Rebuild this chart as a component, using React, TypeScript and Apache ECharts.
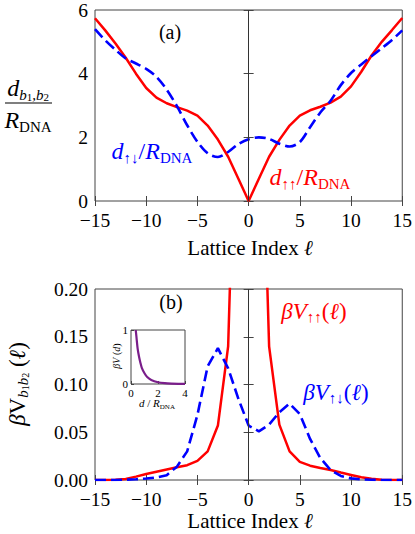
import React, { useEffect, useRef } from 'react';
import * as echarts from 'echarts';

const FONT = "'Liberation Serif', 'Times New Roman', 'DejaVu Serif', serif";

// Lattice index
const ell = [-15, -14, -13, -12, -11, -10, -9, -8, -7, -6, -5, -4, -3, -2, -1, 0, 1, 2, 3, 4, 5, 6, 7, 8, 9, 10, 11, 12, 13, 14, 15];

// Panel (a): distances / R_DNA
const dUpUp = [5.74, 5.36, 4.95, 4.5, 4.0, 3.55, 3.25, 3.07, 2.95, 2.84, 2.68, 2.37, 1.93, 1.39, 0.7, 0, 0.7, 1.39, 1.92, 2.37, 2.68, 2.85, 2.96, 3.09, 3.28, 3.6, 4.06, 4.57, 5.0, 5.37, 5.75];
const dUpDown = [5.4, 5.05, 4.75, 4.48, 4.32, 4.15, 3.9, 3.5, 2.98, 2.38, 1.86, 1.5, 1.38, 1.54, 1.79, 1.94, 2.0, 1.95, 1.8, 1.71, 1.85, 2.32, 2.78, 3.15, 3.64, 4.02, 4.29, 4.55, 4.8, 5.06, 5.36];

// Panel (b): beta V
const vUpUp = [0, 0, 0.0003, 0.001, 0.0035, 0.0063, 0.0087, 0.011, 0.0133, 0.0155, 0.02, 0.03, 0.057, 0.14, 0.5, null, 0.5, 0.14, 0.058, 0.03, 0.019, 0.015, 0.0125, 0.0105, 0.0078, 0.0053, 0.0028, 0.0012, 0.0003, 0, 0];
const vUpDown = [0, 0, 0, 0.0003, 0.0008, 0.0015, 0.0026, 0.005, 0.014, 0.03, 0.068, 0.119, 0.138, 0.117, 0.085, 0.057, 0.051, 0.058, 0.071, 0.08, 0.069, 0.043, 0.023, 0.0105, 0.0042, 0.0017, 0.0007, 0.0002, 0, 0, 0];

// Inset: beta V(d)
const insetD = [0.35, 0.4, 0.5, 0.6, 0.7, 0.8, 1.0, 1.2, 1.5, 2.0, 2.5, 3.0, 3.5, 4.0];
const insetV = [1.0, 0.88, 0.64, 0.5, 0.39, 0.3, 0.2, 0.13, 0.075, 0.033, 0.015, 0.007, 0.003, 0.0015];

const RED = '#ff0000';
const BLUE = '#0000ff';
const PURPLE = '#7a1e8a';
const FRAME = '#444444';

function pairs(xs: number[], ys: (number | null)[]) {
  return xs.map((x, i) => [x, ys[i]]);
}

function minusFmt(v: number) {
  return '{t|' + (v < 0 ? '\u2212' + Math.abs(v) : String(v)) + '}';
}

function rich(color: string, size: number) {
  const lh = size + 4;
  return {
    i: { fontFamily: FONT, fontStyle: 'italic', fontSize: size, lineHeight: lh, fill: color },
    n: { fontFamily: FONT, fontSize: size, lineHeight: lh, fill: color },
    s: { fontFamily: FONT, fontStyle: 'italic', fontSize: Math.round(size * 0.64), lineHeight: Math.round(size * 0.64), verticalAlign: 'bottom', fill: color },
    su: { fontFamily: FONT, fontSize: Math.round(size * 0.64), lineHeight: Math.round(size * 0.64), verticalAlign: 'bottom', fill: color },
    ss: { fontFamily: FONT, fontSize: Math.round(size * 0.45), lineHeight: Math.round(size * 0.3), verticalAlign: 'bottom', fill: color },
  };
}

function label(text: string, x: number, y: number, color: string, size: number, extra: any = {}) {
  return {
    type: 'text',
    x,
    y,
    ...extra,
    style: {
      text,
      rich: rich(color, size),
      fill: color,
      fontFamily: FONT,
      fontSize: size,
      align: 'center',
      verticalAlign: 'middle',
      textAlign: 'center',
      textVerticalAlign: 'middle',
    },
  };
}

const TICK_SIZE = 19.5;
const tickLabel = {
  color: '#000', fontFamily: FONT, fontSize: TICK_SIZE,
  rich: { t: { fontFamily: FONT, fontSize: TICK_SIZE, lineHeight: 18, color: '#000' } },
};
const tickStyle = { show: true, inside: true, length: 5, lineStyle: { color: FRAME, width: 1 } };

function mainX(grid: number, margin: number) {
  return [
    {
      type: 'value', gridIndex: grid, min: -15, max: 15, interval: 5, position: 'bottom',
      axisLine: { show: false }, axisTick: tickStyle, splitLine: { show: false },
      axisLabel: { ...tickLabel, margin, formatter: minusFmt },
    },
    {
      type: 'value', gridIndex: grid, min: -15, max: 15, interval: 5, position: 'top',
      axisLine: { show: false }, axisTick: tickStyle, splitLine: { show: false },
      axisLabel: { show: false },
    },
  ];
}

function mainY(grid: number, max: number, interval: number, fmt: (v: number) => string) {
  return [
    {
      type: 'value', gridIndex: grid, min: 0, max, interval, position: 'left',
      axisLine: { show: false }, axisTick: tickStyle, splitLine: { show: false },
      axisLabel: { ...tickLabel, margin: 7, formatter: (v: number) => '{t|' + fmt(v) + '}' },
    },
    {
      type: 'value', gridIndex: grid, min: 0, max, interval, position: 'right',
      axisLine: { show: false }, axisTick: tickStyle, splitLine: { show: false },
      axisLabel: { show: false },
    },
  ];
}

const zeroLine = {
  silent: true,
  symbol: ['none', 'none'],
  label: { show: false },
  lineStyle: { color: '#333', width: 1, type: 'solid' },
  data: [{ xAxis: 0 }],
  animation: false,
};

const insetLabel = {
  color: '#000', fontFamily: FONT, fontSize: 11, margin: 3,
  formatter: (v: number) => '{t|' + v + '}',
  rich: { t: { fontFamily: FONT, fontSize: 11, color: '#000' } },
};

const option: any = {
  animation: false,
  backgroundColor: '#fff',
  grid: [
    { left: 95, top: 8, width: 310, height: 193, show: true, borderColor: FRAME, borderWidth: 1, backgroundColor: 'transparent' },
    { left: 95, top: 289, width: 310, height: 191, show: true, borderColor: FRAME, borderWidth: 1, backgroundColor: 'transparent' },
    { left: 131, top: 330, width: 54, height: 54, show: true, borderColor: FRAME, borderWidth: 1, backgroundColor: 'transparent' },
  ],
  xAxis: [
    ...mainX(0, 10),
    ...mainX(1, 10),
    {
      type: 'value', gridIndex: 2, min: 0, max: 4, interval: 2,
      axisLine: { show: false }, splitLine: { show: false },
      axisTick: { show: true, inside: true, length: 3, lineStyle: { color: FRAME } },
      axisLabel: insetLabel,
    },
  ],
  yAxis: [
    ...mainY(0, 6, 2, (v: number) => String(v)),
    ...mainY(1, 0.2, 0.05, (v: number) => v.toFixed(2)),
    {
      type: 'value', gridIndex: 2, min: 0, max: 1, interval: 1,
      axisLine: { show: false }, splitLine: { show: false },
      axisTick: { show: true, inside: true, length: 3, lineStyle: { color: FRAME } },
      axisLabel: insetLabel,
    },
  ],
  series: [
    {
      type: 'line', xAxisIndex: 0, yAxisIndex: 0, data: pairs(ell, dUpUp), symbol: 'none', showSymbol: false,
      lineStyle: { color: RED, width: 2.5 }, markLine: zeroLine, z: 3,
    },
    {
      type: 'line', xAxisIndex: 0, yAxisIndex: 0, data: pairs(ell, dUpDown), symbol: 'none', showSymbol: false, smooth: 0.3,
      lineStyle: { color: BLUE, width: 2.6, type: [11, 5] }, z: 4,
    },
    {
      type: 'line', xAxisIndex: 2, yAxisIndex: 2, data: pairs(ell, vUpUp), symbol: 'none', showSymbol: false, clip: true,
      lineStyle: { color: RED, width: 2.5 }, markLine: zeroLine, z: 3,
    },
    {
      type: 'line', xAxisIndex: 2, yAxisIndex: 2, data: pairs(ell, vUpDown), symbol: 'none', showSymbol: false, clip: true,
      lineStyle: { color: BLUE, width: 2.6, type: [11, 5] }, z: 4,
    },
    {
      type: 'line', xAxisIndex: 4, yAxisIndex: 4, data: pairs(insetD, insetV), symbol: 'none', showSymbol: false, smooth: 0.3, clip: true,
      lineStyle: { color: PURPLE, width: 2.2 }, z: 5,
    },
  ],
  graphic: {
    elements: [
      // panel (a) y label as fraction
      { type: 'line', shape: { x1: 5, y1: 103, x2: 52, y2: 103 }, style: { stroke: '#000', lineWidth: 1.2 } },
      label('{i|d}{s|b}{ss|1}{s|,}{s|b}{ss|2}', 28, 88, '#000', 24),
      label('{i|R}{su|DNA}', 28, 120, '#000', 24),
      label('{n|(a)}', 170, 32, '#000', 20),
      label('{i|d}{su|\u2191\u2193}{n|/}{i|R}{su|DNA}', 152, 151, BLUE, 24),
      label('{i|d}{su|\u2191\u2191}{n|/}{i|R}{su|DNA}', 310, 177, RED, 24),
      label('{n|Lattice Index }{i|\u2113}', 250, 248, '#000', 21),
      // panel (b)
      label('{n|(b)}', 171, 302, '#000', 20),
      label('{i|\u03b2V}{su|\u2191\u2191}{n|(}{i|\u2113}{n|)}', 314, 311, RED, 23),
      label('{i|\u03b2V}{su|\u2191\u2193}{n|(}{i|\u2113}{n|)}', 336, 392, BLUE, 23),
      label('{i|\u03b2}{n|V}{s|b}{ss|1}{s|b}{ss|2}{n| (}{i|\u2113}{n|)}', 17, 384, '#000', 23, { rotation: Math.PI / 2 }),
      label('{n|Lattice Index }{i|\u2113}', 250, 521, '#000', 21),
      // inset titles
      label('{i|d}{n| / }{i|R}{su|DNA}', 157, 403, '#000', 11),
      label('{i|\u03b2V}{n| (}{i|d}{n|)}', 116, 356, '#000', 10, { rotation: Math.PI / 2 }),
    ],
  },
};

export default function App() {
  const ref = useRef<HTMLDivElement>(null);
  useEffect(() => {
    const chart = echarts.init(ref.current as HTMLDivElement, null, { renderer: 'svg' });
    chart.setOption(option);
    return () => chart.dispose();
  }, []);
  return <div ref={ref} style={{ position: 'absolute', left: 0, top: 0, width: 415, height: 534 }} />;
}
